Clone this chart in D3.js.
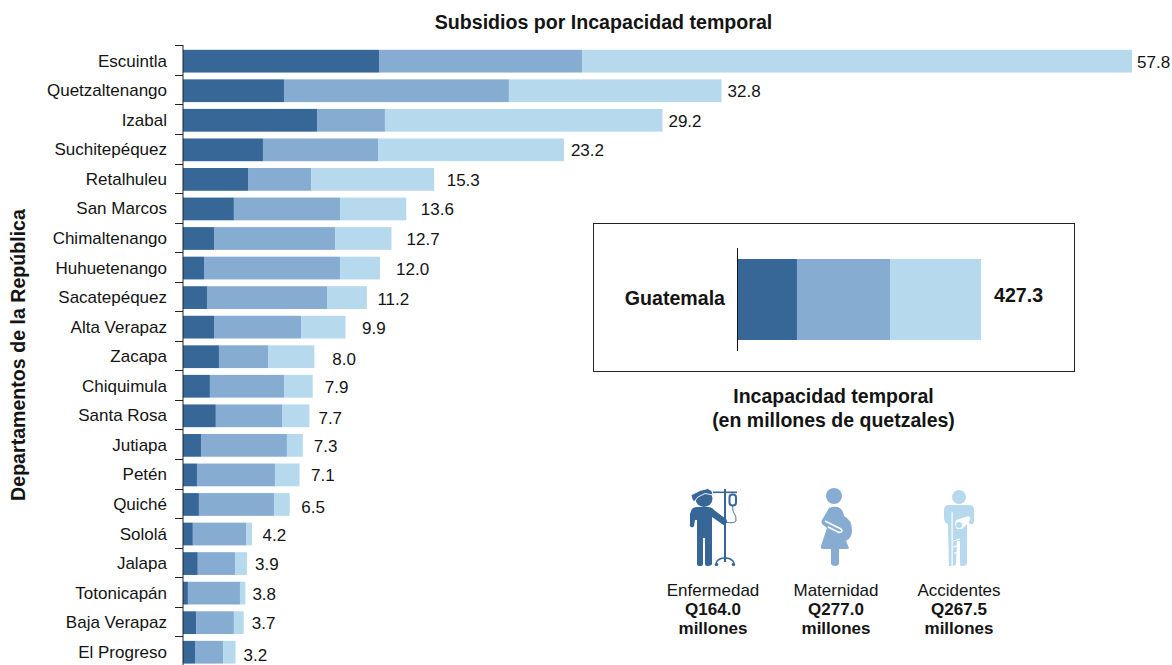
<!DOCTYPE html>
<html><head><meta charset="utf-8">
<style>html,body{margin:0;padding:0;background:#fff}svg{display:block}text{font-family:"Liberation Sans",Arial,sans-serif;fill:#141414}</style>
<script src="https://cdn.jsdelivr.net/npm/d3@7/dist/d3.min.js"></script>
</head><body><svg id="c" width="1172" height="665"></svg>
<script>
const departamentos=["Escuintla","Quetzaltenango","Izabal","Suchitepéquez","Retalhuleu","San Marcos","Chimaltenango","Huhuetenango","Sacatepéquez","Alta Verapaz","Zacapa","Chiquimula","Santa Rosa","Jutiapa","Petén","Quiché","Sololá","Jalapa","Totonicapán","Baja Verapaz","El Progreso"];
const enfermedad=[11.94,6.15,8.16,4.87,3.96,3.1,1.89,1.28,1.46,1.89,2.19,1.64,2.0,1.1,0.85,0.97,0.6,0.9,0.3,0.8,0.73];
const maternidad=[12.36,13.7,4.14,7.01,3.84,6.46,7.37,8.28,7.31,5.3,2.99,4.51,4.03,5.23,4.75,4.57,3.24,2.27,3.17,2.3,1.71];
const accidentes=[33.5,12.95,16.9,11.32,7.5,4.04,3.44,2.44,2.43,2.71,2.82,1.75,1.67,0.97,1.5,0.96,0.36,0.73,0.33,0.6,0.76];
const totales=[57.8,32.8,29.2,23.2,15.3,13.6,12.7,12.0,11.2,9.9,8.0,7.9,7.7,7.3,7.1,6.5,4.2,3.9,3.8,3.7,3.2];
const guatemala=[105,163,159.3];
const guatemalaTotal=427.3;
const colores=["#366797","#87acd2","#b7d9ed"];
const resumen=[["Enfermedad","Q164.0","millones"],["Maternidad","Q277.0","millones"],["Accidentes","Q267.5","millones"]];
// separación manual de cada etiqueta respecto a su barra (como en el original)
const etiquetaDx=[5,6,6,7,12.5,14.5,15,16,10.5,16.5,18,12,9,11,11.5,11.5,10.5,8,7,8,8];
const etiquetaDy=[0,0,0,0,0,0,0,0,1,0,2,0,2,0,0,2,0,0,0,0,2];

const svg=d3.select("#c");
const FS=17;
const x=d3.scaleLinear().domain([0,57.8]).range([183,1132]);
const y=d3.scaleBand().domain(departamentos).range([46.4,667]).paddingInner(0.23).paddingOuter(0.115);
const stack=departamentos.map((d,i)=>{let a=enfermedad[i],b=a+maternidad[i],c=totales[i];return [[0,a],[a,b],[b,c]];});

svg.append("text").attr("x",603.5).attr("y",28.5).attr("text-anchor","middle").attr("font-weight","bold").attr("font-size",19.6).text("Subsidios por Incapacidad temporal");
svg.append("text").attr("transform","translate(25,355) rotate(-90)").attr("text-anchor","middle").attr("font-weight","bold").attr("font-size",19.6).text("Departamentos de la República");

const rows=svg.append("g").selectAll("g").data(departamentos).join("g");
rows.selectAll("rect").data((d,i)=>stack[i].map((s,j)=>({d,s,j}))).join("rect")
 .attr("x",e=>x(e.s[0])).attr("width",e=>x(e.s[1])-x(e.s[0])).attr("y",e=>y(e.d)).attr("height",y.bandwidth()).attr("fill",e=>colores[e.j]);
rows.append("text").attr("x",(d,i)=>x(totales[i])+etiquetaDx[i]).attr("y",(d,i)=>y(d)+y.bandwidth()/2+6.5+etiquetaDy[i]).attr("font-size",FS).text((d,i)=>totales[i].toFixed(1));

const ax=svg.append("g");
ax.append("line").attr("x1",183).attr("x2",183).attr("y1",45).attr("y2",665).attr("stroke","#222").attr("stroke-width",1);
d3.range(departamentos.length).forEach(i=>{
  const ty=Math.round(45.3+i*y.step())+.5;
  ax.append("line").attr("x1",175).attr("x2",183).attr("y1",ty).attr("y2",ty).attr("stroke","#222");
});
ax.selectAll("text").data(departamentos).join("text").attr("x",167).attr("y",d=>y(d)+y.bandwidth()/2+5.5).attr("text-anchor","end").attr("font-size",FS).text(d=>d);

// recuadro Guatemala
svg.append("rect").attr("x",593.5).attr("y",223.5).attr("width",481).attr("height",148).attr("fill","none").attr("stroke","#222");
const gx=d3.scaleLinear().domain([0,guatemalaTotal]).range([737,981]);
let acc=0;
guatemala.forEach((v,j)=>{svg.append("rect").attr("x",gx(acc)).attr("width",gx(acc+v)-gx(acc)).attr("y",259).attr("height",81).attr("fill",colores[j]);acc+=v;});
svg.append("line").attr("x1",737.5).attr("x2",737.5).attr("y1",248).attr("y2",351).attr("stroke","#111");
svg.append("text").attr("x",725).attr("y",305).attr("text-anchor","end").attr("font-weight","bold").attr("font-size",19.6).text("Guatemala");
svg.append("text").attr("x",994).attr("y",302).attr("font-weight","bold").attr("font-size",19.6).text(guatemalaTotal.toFixed(1));

svg.append("text").attr("x",833.5).attr("y",403).attr("text-anchor","middle").attr("font-weight","bold").attr("font-size",19.5).text("Incapacidad temporal");
svg.append("text").attr("x",833.5).attr("y",427).attr("text-anchor","middle").attr("font-weight","bold").attr("font-size",19.5).text("(en millones de quetzales)");

// leyenda
const lx=[713,836,959];
resumen.forEach((r,i)=>{
 const g=svg.append("g");
 r.forEach((t,k)=>g.append("text").attr("x",lx[i]).attr("y",596+k*19).attr("text-anchor","middle").attr("font-size",FS).attr("font-weight",k?"bold":"normal").text(t));
});
// iconos
const ic1=svg.append("g").attr("fill",colores[0]);
ic1.append("circle").attr("cx",704).attr("cy",498.5).attr("r",8.5);
ic1.append("path").attr("d","M691 495 L700 490.5 L708 488.5 L712 491 L713 495 L705 493.5 L698 497 L694 502 L692 499 Z").attr("stroke","#fff").attr("stroke-width",.9);
ic1.append("path").attr("d","M697 507 L708 507 Q712 507 714 510 L726 519 Q728 521 726 524 Q724 526 722 524 L712 517 L712 564 Q711 566 707 566 Q705 566 705 564 L705 538 L703 538 L703 564 Q703 566 700 566 Q697 566 697 564 L697 520 L695 520 L694 526 Q693 528 691 527 Q689 526 690 524 L690 514 Q691 507 697 507 Z");
ic1.append("rect").attr("x",724).attr("y",489).attr("width",2).attr("height",73);
ic1.append("rect").attr("x",713).attr("y",491.5).attr("width",24).attr("height",1.6);
ic1.append("path").attr("d","M716 563 Q718 558 725 558 Q732 558 734 563").attr("fill","none").attr("stroke",colores[0]).attr("stroke-width",1.5);
ic1.append("circle").attr("cx",716.5).attr("cy",564.5).attr("r",1.7);
ic1.append("circle").attr("cx",733.5).attr("cy",564.5).attr("r",1.7);
ic1.append("rect").attr("x",729.5).attr("y",494.5).attr("width",6.5).attr("height",11).attr("rx",3).attr("fill","#fff").attr("stroke",colores[0]).attr("stroke-width",2);
ic1.append("path").attr("d","M732.5 505 L733 511 Q737 517 736 521 Q733 524 726 522").attr("fill","none").attr("stroke",colores[0]).attr("stroke-width",.9);

const ic2=svg.append("g").attr("fill",colores[1]);
ic2.append("circle").attr("cx",834).attr("cy",496).attr("r",8);
ic2.append("path").attr("d","M829 508 Q833 506 838 507 Q843 509 844 516 Q852 520 852 530 Q852 538 846 541 L849 548 Q849 549 846 549 L839 549 L839 564 Q838 566 835 566 Q832 566 831 564 L831 549 L823 549 Q820 549 821 546 L827 528 L822 524 Q821 522 822 520 Z");
ic2.append("path").attr("d","M825 521 L841 529 Q843 531 841 532 Q840 533 838 532 L828 527").attr("fill","none").attr("stroke","#fff").attr("stroke-width",1.6);

const ic3=svg.append("g").attr("fill",colores[2]);
ic3.append("circle").attr("cx",959).attr("cy",497).attr("r",7);
ic3.append("path").attr("d","M949 505 L969 505 Q974 505 974 510 L974 522 Q973 525 971 524 Q969 524 968 522 L967 520 L967 564 Q966 566 963 566 Q960 566 960 564 L960 541 L957 541 L956 564 Q955 566 952 566 L949 566 L948 524 L946 523 Q944 521 944 518 L944 510 Q944 505 949 505 Z");
ic3.append("rect").attr("x",951.5).attr("y",512).attr("width",1.2).attr("height",54).attr("fill","#fff");
ic3.append("path").attr("d","M956 520 L969 516 Q971 518 969 522 L962 529 L957 529 Q954 525 956 520 Z").attr("fill","#fff");
ic3.append("circle").attr("cx",959).attr("cy",525).attr("r",3).attr("fill",colores[2]);
ic3.append("path").attr("d","M953 541 L960 539 M953 547 L960 545 M954 553 L959 553").attr("stroke","#fff").attr("stroke-width",1.2).attr("fill","none");
</script></body></html>
